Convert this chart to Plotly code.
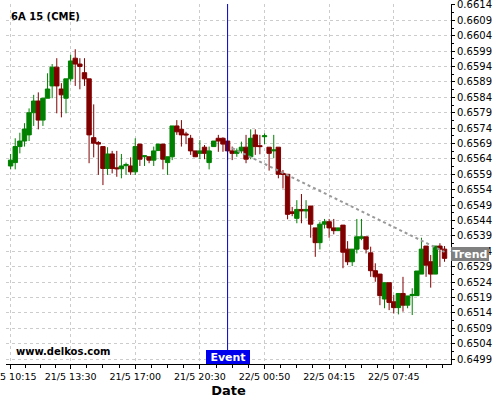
import plotly.graph_objects as go

title_text = "6A 15 (CME)"
watermark_text = "www.delkos.com"
x_axis_title = "Date"

opens = [
    0.65617, 0.65628, 0.6568, 0.65698, 0.65718, 0.6579, 0.65828, 0.65766, 0.65837, 0.65877,
    0.65938, 0.65867, 0.65837, 0.659, 0.65967, 0.65948, 0.6592, 0.659, 0.65709, 0.65693,
    0.6568, 0.65609, 0.65656, 0.65611, 0.65608, 0.65618, 0.65617, 0.65598, 0.65688, 0.65647,
    0.65647, 0.65636, 0.65667, 0.65688, 0.65628, 0.65647, 0.65747, 0.65736, 0.65721, 0.65707,
    0.65666, 0.65658, 0.65678, 0.65628, 0.6568, 0.65707, 0.65707, 0.65698, 0.65666, 0.65658,
    0.65666, 0.65678, 0.65647, 0.65718, 0.65683, 0.65712, 0.65678, 0.65666, 0.65678, 0.65593,
    0.6559, 0.65468, 0.65447, 0.65476, 0.65471, 0.65487, 0.65416, 0.65368, 0.65428, 0.65436,
    0.65416, 0.65407, 0.65425, 0.65347, 0.65306, 0.65347, 0.65382, 0.65387, 0.65335, 0.65277,
    0.65266, 0.65185, 0.65238, 0.65176, 0.65157, 0.65203, 0.65165, 0.65196, 0.65196, 0.65266,
    0.65357, 0.65306, 0.65266, 0.65357, 0.65347,
]
highs = [
    0.65656, 0.65707, 0.65725, 0.65756, 0.65804, 0.65848, 0.65856, 0.65837, 0.65918, 0.65948,
    0.65967, 0.65886, 0.659, 0.65978, 0.65996, 0.65967, 0.65967, 0.659, 0.65817, 0.65698,
    0.6568, 0.65678, 0.65666, 0.65666, 0.65656, 0.65628, 0.65645, 0.65707, 0.65688, 0.6565,
    0.65647, 0.6568, 0.65688, 0.65688, 0.65647, 0.65747, 0.65766, 0.65766, 0.65728, 0.65718,
    0.65666, 0.65701, 0.65685, 0.6568, 0.65698, 0.65718, 0.6571, 0.65698, 0.6568, 0.65674,
    0.65696, 0.65718, 0.65736, 0.65736, 0.65718, 0.65723, 0.65678, 0.65718, 0.65678, 0.65604,
    0.6559, 0.65484, 0.65506, 0.65526, 0.65506, 0.65487, 0.65416, 0.65436, 0.65445, 0.65445,
    0.65445, 0.65416, 0.65425, 0.65373, 0.65347, 0.65445, 0.65445, 0.65387, 0.65355, 0.65301,
    0.65266, 0.65238, 0.65238, 0.65198, 0.65203, 0.65257, 0.65195, 0.6522, 0.65276, 0.65384,
    0.65357, 0.65328, 0.65357, 0.65366, 0.65357,
]
lows = [
    0.65606, 0.65606, 0.65658, 0.6568, 0.65698, 0.65747, 0.65736, 0.65747, 0.65837, 0.65837,
    0.65788, 0.65775, 0.65788, 0.65891, 0.65877, 0.65866, 0.65877, 0.65626, 0.65645, 0.65588,
    0.65555, 0.65588, 0.65593, 0.65582, 0.65577, 0.65588, 0.65588, 0.65588, 0.65617, 0.65617,
    0.65626, 0.65617, 0.65666, 0.65606, 0.65588, 0.65636, 0.65718, 0.6568, 0.65688, 0.65653,
    0.65646, 0.65639, 0.65639, 0.65606, 0.65679, 0.65663, 0.65663, 0.65636, 0.65636, 0.65647,
    0.65658, 0.65626, 0.65639, 0.65653, 0.65655, 0.65688, 0.65602, 0.65642, 0.65577, 0.65544,
    0.65444, 0.65454, 0.65431, 0.65431, 0.65447, 0.65384, 0.65322, 0.65346, 0.65414, 0.65384,
    0.65395, 0.65407, 0.65285, 0.65295, 0.65292, 0.65333, 0.65376, 0.65333, 0.65257, 0.65241,
    0.65165, 0.65155, 0.65149, 0.65138, 0.65135, 0.65144, 0.65155, 0.65133, 0.65196, 0.65266,
    0.65257, 0.65222, 0.65266, 0.6529, 0.65306,
]
closes = [
    0.65636, 0.6568, 0.65698, 0.65737, 0.6579, 0.65828, 0.65766, 0.65837, 0.65867, 0.65938,
    0.65877, 0.65848, 0.659, 0.65958, 0.65948, 0.6594, 0.659, 0.65718, 0.65691, 0.65688,
    0.65609, 0.65656, 0.65609, 0.65608, 0.65617, 0.65622, 0.65598, 0.6568, 0.65639, 0.6565,
    0.65636, 0.65666, 0.65688, 0.65639, 0.65647, 0.65747, 0.65728, 0.65718, 0.65718, 0.65666,
    0.65647, 0.65666, 0.65658, 0.65666, 0.65698, 0.65698, 0.65688, 0.65666, 0.65658, 0.65666,
    0.65678, 0.65639, 0.65707, 0.6568, 0.6568, 0.65715, 0.65658, 0.65669, 0.6559, 0.6559,
    0.6546, 0.65463, 0.65476, 0.65471, 0.65476, 0.65428, 0.65368, 0.65428, 0.65436, 0.65416,
    0.65407, 0.65416, 0.65337, 0.65306, 0.65347, 0.65387, 0.65387, 0.65347, 0.65277, 0.65257,
    0.65196, 0.65238, 0.65174, 0.65157, 0.65203, 0.65165, 0.65195, 0.652, 0.65276, 0.65347,
    0.65295, 0.65266, 0.65357, 0.65347, 0.65317,
]

x_tick_index = [0, 13, 27, 41, 55, 69, 83]
x_tick_labels = ["21/5 10:15", "21/5 13:30", "21/5 17:00", "21/5 20:30",
                 "22/5 00:50", "22/5 04:15", "22/5 07:45"]
y_tick_labels = ["0.6499", "0.6504", "0.6509", "0.6514", "0.6519", "0.6524",
                 "0.6529", "0.6534", "0.6539", "0.6544", "0.6549", "0.6554",
                 "0.6559", "0.6564", "0.6569", "0.6574", "0.6579", "0.6584",
                 "0.6589", "0.6594", "0.6599", "0.6604", "0.6609", "0.6614"]

event_index = 47
event_label = "Event"
trend_index = [48, 94]
trend_values = [0.65675, 0.65338]
trend_label = "Trend"
trend_label_value = 0.6533

FONT = "DejaVu Sans"
GREEN = "#008000"
RED = "#800000"

bar_index = list(range(len(opens)))
y_tick_vals = [float(s) for s in y_tick_labels]

# minor ticks: quarter steps between major x ticks
step_list = [b - a for a, b in zip(x_tick_index[:-1], x_tick_index[1:])] + [14]
x_minor = []
for start, step in zip(x_tick_index, step_list):
    for j in (1, 2, 3):
        x_minor.append(start + step * j / 4)
y_minor = [(a + b) / 2 for a, b in zip(y_tick_vals[:-1], y_tick_vals[1:])]

fig = go.Figure()
fig.add_trace(go.Candlestick(
    x=bar_index, open=opens, high=highs, low=lows, close=closes,
    increasing=dict(line=dict(color=GREEN, width=1), fillcolor=GREEN),
    decreasing=dict(line=dict(color=RED, width=1), fillcolor=RED),
    whiskerwidth=0, showlegend=False, hoverinfo="skip",
))
fig.add_trace(go.Scatter(
    x=trend_index, y=trend_values, mode="lines",
    line=dict(color="#999999", width=2, dash="dot"),
    showlegend=False, hoverinfo="skip",
))

fig.add_shape(type="line", xref="x", yref="paper", x0=event_index, x1=event_index,
              y0=0, y1=1, line=dict(color="#0000cc", width=1), layer="above")

fig.add_annotation(x=event_index, xref="x", y=0, yref="paper", yanchor="bottom",
                   xanchor="center", text="<b>" + event_label + "</b>", showarrow=False,
                   bgcolor="#0000ee", font=dict(family=FONT, size=11, color="white"),
                   width=44, height=14, borderpad=0, borderwidth=0)
fig.add_annotation(x=1, xref="paper", y=trend_label_value, yref="y", xanchor="left",
                   yanchor="middle", text="<b>" + trend_label + "</b>", showarrow=False,
                   bgcolor="#808080", font=dict(family=FONT, size=11, color="white"),
                   width=38, height=14, borderpad=0, borderwidth=0)
fig.add_annotation(x=0, xref="paper", y=1, yref="paper", xanchor="left", yanchor="top",
                   xshift=3, yshift=-5, text="<b>" + title_text + "</b>", showarrow=False,
                   font=dict(family=FONT, size=10, color="black"))
fig.add_annotation(x=0, xref="paper", y=0, yref="paper", xanchor="left", yanchor="bottom",
                   xshift=8, yshift=5, text="<b>" + watermark_text + "</b>", showarrow=False,
                   font=dict(family=FONT, size=10, color="black"))

fig.update_layout(
    width=500, height=400,
    margin=dict(l=6, r=49, t=4, b=36, autoexpand=False),
    paper_bgcolor="white", plot_bgcolor="white",
    font=dict(family=FONT, color="black"),
    boxgap=0.05, boxgroupgap=0,
    xaxis=dict(
        range=[-1.0, 95.4], rangeslider=dict(visible=False), automargin=False,
        tickmode="array", tickvals=x_tick_index, ticktext=x_tick_labels,
        tickfont=dict(size=9.5, color="black"), ticklabeloverflow="allow",
        ticks="outside", ticklen=4, tickcolor="black",
        showline=True, linecolor="black", linewidth=1,
        showgrid=True, gridcolor="#cccccc", griddash="3px,3px", gridwidth=1,
        zeroline=False,
        minor=dict(tickmode="array", tickvals=x_minor, ticks="outside", ticklen=3,
                   tickcolor="black", showgrid=False),
        title=dict(text="<b>" + x_axis_title + "</b>", font=dict(size=13, color="black"),
                   standoff=4),
    ),
    yaxis=dict(
        side="right", range=[0.64974, 0.66143], automargin=False,
        tickmode="array", tickvals=y_tick_vals, ticktext=y_tick_labels,
        tickfont=dict(size=10, color="black"), ticklabeloverflow="allow",
        ticks="outside", ticklen=3, tickcolor="black",
        showline=True, linecolor="black", linewidth=1,
        showgrid=True, gridcolor="#cccccc", griddash="3px,3px", gridwidth=1,
        zeroline=False,
        minor=dict(tickmode="array", tickvals=y_minor, ticks="outside", ticklen=2,
                   tickcolor="black", showgrid=False),
    ),
)

fig.write_html("out.html", config={"displayModeBar": False},
               post_script="document.body.style.margin='0px';document.body.style.overflow='hidden';")
